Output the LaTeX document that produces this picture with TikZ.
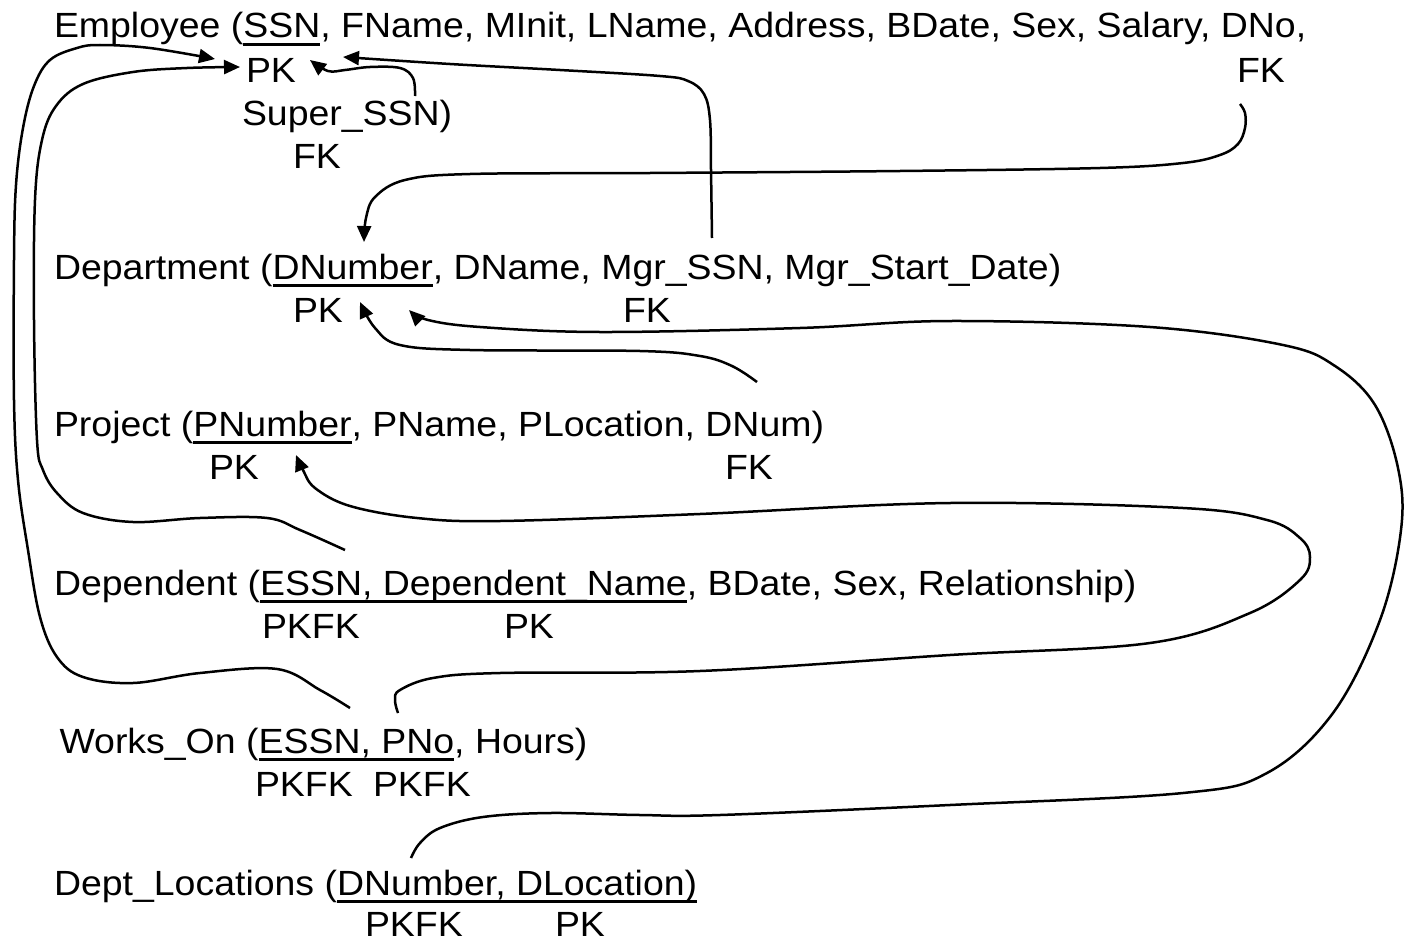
\documentclass[tikz,border=0pt]{standalone}
\usepackage{fontspec}
\setmainfont{Liberation Sans}[FakeStretch=1.07]
\usetikzlibrary{arrows.meta}
\newsavebox\ulbox
\newcommand{\myul}[1]{\sbox\ulbox{#1}\rlap{\rule[-8pt]{\wd\ulbox}{3.4pt}}\usebox\ulbox}
\begin{document}
\begin{tikzpicture}[x=1pt,y=-1pt,
  txt/.style={anchor=base west, inner sep=0pt, outer sep=0pt, font=\fontsize{35}{42}\selectfont},
  link/.style={line width=2.5pt, line join=round, -{Triangle[length=16pt,width=14pt]}},
  curve/.style={smooth, tension=0.6}]
\useasboundingbox (0,0) rectangle (1413,942);
% relations
\node[txt] (emp) at (54,38) {Employee (\myul{SSN}, FName, MInit, LName, Address, BDate, Sex, Salary, DNo,};
\node[txt] (empPK) at (246,82) {PK};
\node[txt] (empFK) at (1237,82) {FK};
\node[txt] (super) at (242,125) {Super\_SSN)};
\node[txt] (superFK) at (293,168) {FK};
\node[txt] (dept) at (54,279) {Department (\myul{DNumber}, DName, Mgr\_SSN, Mgr\_Start\_Date)};
\node[txt] (deptPK) at (293,322) {PK};
\node[txt] (deptFK) at (623,322) {FK};
\node[txt] (proj) at (54,436) {Project (\myul{PNumber}, PName, PLocation, DNum)};
\node[txt] (projPK) at (209,479) {PK};
\node[txt] (projFK) at (725,479) {FK};
\node[txt] (dep) at (54,595) {Dependent (\myul{ESSN, Dependent\_Name}, BDate, Sex, Relationship)};
\node[txt] (depPKFK) at (262,638) {PKFK};
\node[txt] (depPK) at (504,638) {PK};
\node[txt] (works) at (59.5,753) {Works\_On (\myul{ESSN, PNo}, Hours)};
\node[txt] (wPKFKa) at (255,796) {PKFK};
\node[txt] (wPKFKb) at (373,796) {PKFK};
\node[txt] (loc) at (54,895) {Dept\_Locations (\myul{DNumber, DLocation)}};
\node[txt] (locPKFK) at (365,936) {PKFK};
\node[txt] (locPK) at (555,936) {PK};
% connector ends
\coordinate (superTop) at (415,96);
\coordinate (ssnA) at (310,60);
\coordinate (mgrTop) at (712,238);
\coordinate (ssnB) at (343,57);
\coordinate (dnoBot) at (1240,104);
\coordinate (dnumTop) at (364,242);
\coordinate (dnumTop2) at (757,382);
\coordinate (deptPKa) at (360,302);
\coordinate (locTop) at (411,858);
\coordinate (deptPKb) at (409,310);
\coordinate (pnoTop) at (398,713);
\coordinate (projPKa) at (296,455);
\coordinate (depTop) at (345,550);
\coordinate (ssnC) at (240,67);
\coordinate (worksTop) at (350,708);
\coordinate (ssnD) at (215,59);
% connectors
\draw[link] plot[curve] coordinates {(superTop) (413,78) (400,68) (370,67) (345,70) (328,71) (ssnA)};
\draw[link] plot[curve] coordinates {(mgrTop) (711,170) (710,120) (704,94) (688,81) (660,76) (560,70) (450,64) (ssnB)};
\draw[link] plot[curve] coordinates {(dnoBot) (1245,113) (1245,128) (1238,144) (1220,155) (1183,163) (1100,168) (900,171) (650,173) (470,174) (405,180) (375,197) (366,218) (dnumTop)};
\draw[link] plot[curve] coordinates {(dnumTop2) (732,366) (700,356) (640,351) (470,350) (400,345) (375,328) (deptPKa)};
\draw[link] plot[curve] coordinates {(locTop) (420,843) (440,828) (483,817) (550,813) (640,815) (720,815) (950,805) (1183,793) (1267,773) (1333,713) (1380,620) (1401,530) (1398,468) (1375,405) (1335,366) (1283,345) (1150,327) (950,321) (800,328) (600,332) (480,327) (428,320) (deptPKb)};
\draw[link] plot[curve] coordinates {(pnoTop) (395,700) (400,690) (433,678) (500,673) (700,671) (950,655) (1150,643) (1250,613) (1300,580) (1310,557) (1300,538) (1267,520) (1183,508) (950,503) (700,514) (500,521) (417,518) (350,506) (315,488) (303,470) (projPKa)};
\draw[link] plot[curve] coordinates {(depTop) (300,530) (267,518) (200,518) (133,522) (83,513) (57,493) (43,470) (37,440) (34,320) (35,200) (42,140) (56,106) (83,84) (133,72) (187,68) (ssnC)};
\draw[link] plot[curve] coordinates {(worksTop) (320,690) (277,669) (200,673) (133,683) (83,677) (57,657) (40,617) (28,550) (18,480) (14,400) (14,260) (16,185) (23,128) (34,86) (50,60) (77,48) (100,45) (150,48) (ssnD)};
\end{tikzpicture}
\end{document}
